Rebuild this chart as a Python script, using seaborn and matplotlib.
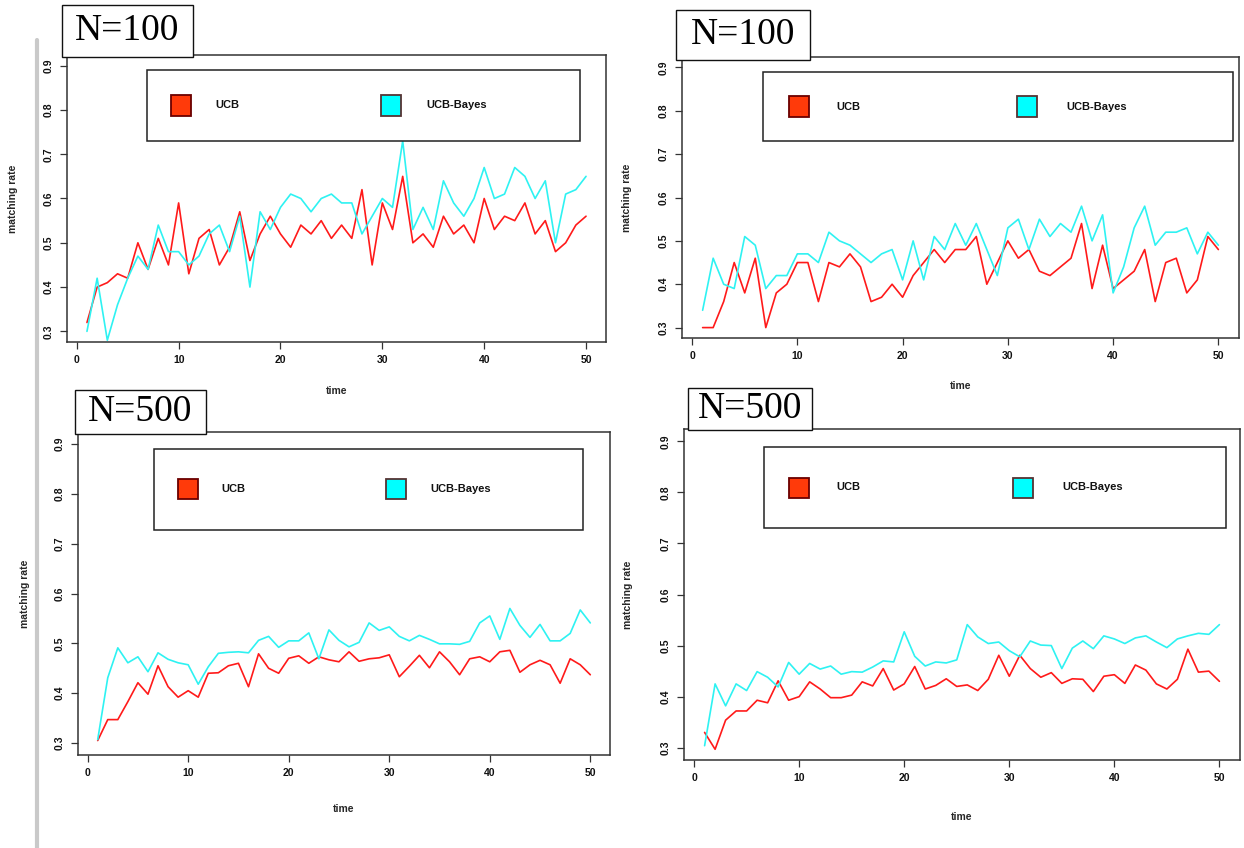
import matplotlib
matplotlib.use("Agg")
import matplotlib.pyplot as plt
import pandas as pd
import seaborn as sb
from matplotlib.lines import Line2D
from matplotlib.patches import Rectangle

# ---- data ----
time = list(range(1, 51))

ucb_n100_left = [0.32, 0.40, 0.41, 0.43, 0.42, 0.50, 0.44, 0.51, 0.45, 0.59,
                 0.43, 0.51, 0.53, 0.45, 0.49, 0.57, 0.46, 0.52, 0.56, 0.52,
                 0.49, 0.54, 0.52, 0.55, 0.51, 0.54, 0.51, 0.62, 0.45, 0.59,
                 0.53, 0.65, 0.50, 0.52, 0.49, 0.56, 0.52, 0.54, 0.50, 0.60,
                 0.53, 0.56, 0.55, 0.59, 0.52, 0.55, 0.48, 0.50, 0.54, 0.56]
bayes_n100_left = [0.30, 0.42, 0.28, 0.36, 0.42, 0.47, 0.44, 0.54, 0.48, 0.48,
                   0.45, 0.47, 0.52, 0.54, 0.48, 0.56, 0.40, 0.57, 0.53, 0.58,
                   0.61, 0.60, 0.57, 0.60, 0.61, 0.59, 0.59, 0.52, 0.56, 0.60,
                   0.58, 0.73, 0.53, 0.58, 0.53, 0.64, 0.59, 0.56, 0.60, 0.67,
                   0.60, 0.61, 0.67, 0.65, 0.60, 0.64, 0.50, 0.61, 0.62, 0.65]

ucb_n100_right = [0.30, 0.30, 0.36, 0.45, 0.38, 0.46, 0.30, 0.38, 0.40, 0.45,
                  0.45, 0.36, 0.45, 0.44, 0.47, 0.44, 0.36, 0.37, 0.40, 0.37,
                  0.42, 0.45, 0.48, 0.45, 0.48, 0.48, 0.51, 0.40, 0.45, 0.50,
                  0.46, 0.48, 0.43, 0.42, 0.44, 0.46, 0.54, 0.39, 0.49, 0.39,
                  0.41, 0.43, 0.48, 0.36, 0.45, 0.46, 0.38, 0.41, 0.51, 0.48]
bayes_n100_right = [0.34, 0.46, 0.40, 0.39, 0.51, 0.49, 0.39, 0.42, 0.42, 0.47,
                    0.47, 0.45, 0.52, 0.50, 0.49, 0.47, 0.45, 0.47, 0.48, 0.41,
                    0.50, 0.41, 0.51, 0.48, 0.54, 0.49, 0.54, 0.48, 0.42, 0.53,
                    0.55, 0.48, 0.55, 0.51, 0.54, 0.52, 0.58, 0.50, 0.56, 0.38,
                    0.44, 0.53, 0.58, 0.49, 0.52, 0.52, 0.53, 0.47, 0.52, 0.49]

ucb_n500_left = [0.305, 0.347, 0.347, 0.383, 0.421, 0.398, 0.455, 0.413, 0.392, 0.405,
                 0.392, 0.440, 0.441, 0.455, 0.460, 0.413, 0.479, 0.450, 0.440, 0.470,
                 0.475, 0.460, 0.473, 0.467, 0.463, 0.483, 0.464, 0.469, 0.471, 0.477,
                 0.433, 0.454, 0.476, 0.451, 0.483, 0.463, 0.437, 0.469, 0.473, 0.463,
                 0.483, 0.486, 0.442, 0.457, 0.466, 0.457, 0.420, 0.469, 0.457, 0.437]
bayes_n500_left = [0.307, 0.431, 0.491, 0.461, 0.473, 0.443, 0.481, 0.468, 0.461, 0.457,
                   0.418, 0.453, 0.480, 0.482, 0.483, 0.481, 0.506, 0.514, 0.492, 0.505,
                   0.505, 0.521, 0.469, 0.527, 0.506, 0.493, 0.502, 0.541, 0.526, 0.533,
                   0.514, 0.505, 0.516, 0.508, 0.499, 0.499, 0.498, 0.504, 0.541, 0.555,
                   0.508, 0.570, 0.536, 0.512, 0.538, 0.505, 0.505, 0.520, 0.567, 0.541]

ucb_n500_right = [0.330, 0.297, 0.354, 0.372, 0.372, 0.393, 0.388, 0.431, 0.393, 0.400,
                  0.429, 0.415, 0.398, 0.398, 0.403, 0.429, 0.421, 0.455, 0.413, 0.425,
                  0.459, 0.415, 0.422, 0.435, 0.420, 0.423, 0.412, 0.434, 0.481, 0.440,
                  0.481, 0.455, 0.438, 0.447, 0.426, 0.435, 0.434, 0.410, 0.440, 0.443,
                  0.426, 0.462, 0.452, 0.425, 0.415, 0.434, 0.493, 0.448, 0.450, 0.430]
bayes_n500_right = [0.304, 0.425, 0.382, 0.425, 0.412, 0.449, 0.438, 0.419, 0.467, 0.444,
                    0.465, 0.454, 0.460, 0.444, 0.449, 0.448, 0.458, 0.470, 0.468, 0.527,
                    0.479, 0.460, 0.468, 0.466, 0.472, 0.541, 0.517, 0.504, 0.507, 0.490,
                    0.478, 0.509, 0.501, 0.500, 0.455, 0.495, 0.509, 0.494, 0.519, 0.513,
                    0.504, 0.515, 0.519, 0.507, 0.496, 0.513, 0.519, 0.524, 0.522, 0.541]

panel_titles = ["N=100", "N=100", "N=500", "N=500"]
series_names = ["UCB", "UCB-Bayes"]
x_ticks = [0, 10, 20, 30, 40, 50]
y_ticks = [0.3, 0.4, 0.5, 0.6, 0.7, 0.8, 0.9]

panels = [(ucb_n100_left, bayes_n100_left), (ucb_n100_right, bayes_n100_right),
          (ucb_n500_left, bayes_n500_left), (ucb_n500_right, bayes_n500_right)]

# ---- layout (pixels: left, top, right, bottom) ----
W, H = 1244, 848
axes_px = [(67, 55, 606, 342), (682, 57, 1239, 338),
           (78, 432, 610, 755), (684, 429, 1240, 760)]
legend_px = [(147, 70, 580, 141), (763, 72, 1233, 141),
             (154, 449, 583, 530), (764, 447, 1226, 528)]
title_px = [(62, 5, 193, 57), (676, 10, 810, 60),
            (75, 390, 206, 434), (688, 388, 812, 430)]
ylab_x = [18, 632, 30, 633]
xlab_y = [386, 381, 804, 812]

line_colors = ["#ff1a1a", "#2ef2f2"]
fill_colors = ["#ff3a0a", "#00ffff"]

sb.set_style("ticks")
plt.rcParams["font.family"] = ["Liberation Sans", "DejaVu Sans"]

fig = plt.figure(figsize=(W / 100, H / 100), dpi=100)


def fx(x):
    return x / W


def fy(y):
    return 1 - y / H


# grey page edge on the left
fig.add_artist(Line2D([fx(37), fx(37)], [0, fy(40)], color="#c9c9c9", lw=3))

for i, (ucb, bayes) in enumerate(panels):
    l, t, r, b = axes_px[i]
    ax = fig.add_axes([fx(l), fy(b), (r - l) / W, (b - t) / H])
    df = pd.DataFrame({"time": time * 2, "rate": ucb + bayes,
                       "algo": [series_names[0]] * len(time) + [series_names[1]] * len(time)})
    sb.lineplot(data=df, x="time", y="rate", hue="algo", palette=line_colors,
                linewidth=1.2, legend=False, ax=ax)
    ax.set_xlim(-0.96, 51.96)
    ax.set_ylim(0.276, 0.924)
    ax.set_xticks(x_ticks)
    ax.set_yticks(y_ticks)
    ax.set_xticklabels([str(v) for v in x_ticks], fontweight="bold")
    ax.set_yticklabels([f"{v:.1f}" for v in y_ticks], rotation=90, va="center",
                       fontweight="bold")
    ax.tick_params(direction="out", length=4.7, width=0.9, labelsize=7.5,
                   color="#333333", labelcolor="#111111")
    ax.tick_params(axis="x", pad=5)
    ax.tick_params(axis="y", pad=5)
    for s in ax.spines.values():
        s.set_visible(True)
        s.set_linewidth(1.1)
        s.set_color("#333333")
    ax.set_xlabel("time", fontsize=7.5, fontweight="bold")
    ax.set_ylabel("matching rate", fontsize=7.5, fontweight="bold")
    ax.xaxis.set_label_coords(0.5, -(xlab_y[i] - b) / (b - t))
    ax.yaxis.set_label_coords(-(l - ylab_x[i]) / (r - l), 0.5)

    # legend box
    ll, lt, lr, lb = legend_px[i]
    fig.add_artist(Rectangle((fx(ll), fy(lb)), (lr - ll) / W, (lb - lt) / H,
                             fc="white", ec="#222222", lw=1.1))
    bw = lr - ll
    cy = (lt + lb) / 2
    sq = 20
    for k, (sq_off, txt_off) in enumerate([(0.055, 0.157), (0.54, 0.645)]):
        sx = ll + sq_off * bw
        fig.add_artist(Rectangle((fx(sx), fy(cy + sq / 2)), sq / W, sq / H,
                                 fc=fill_colors[k], ec="#6a0000" if k == 0 else "#553333",
                                 lw=1.3))
        fig.text(fx(ll + txt_off * bw), fy(cy), series_names[k], fontsize=8,
                 fontweight="bold", color="#111111", ha="left", va="center")

    # N= label box
    nl, nt, nr, nb = title_px[i]
    fig.add_artist(Rectangle((fx(nl), fy(nb)), (nr - nl) / W, (nb - nt) / H,
                             fc="white", ec="#111111", lw=1.0))
    fig.text(fx((nl + nr) / 2), fy((nt + nb) / 2), panel_titles[i], fontsize=27,
             family="Liberation Serif", color="black", ha="center", va="center")

fig.savefig("out.png", dpi=100)
